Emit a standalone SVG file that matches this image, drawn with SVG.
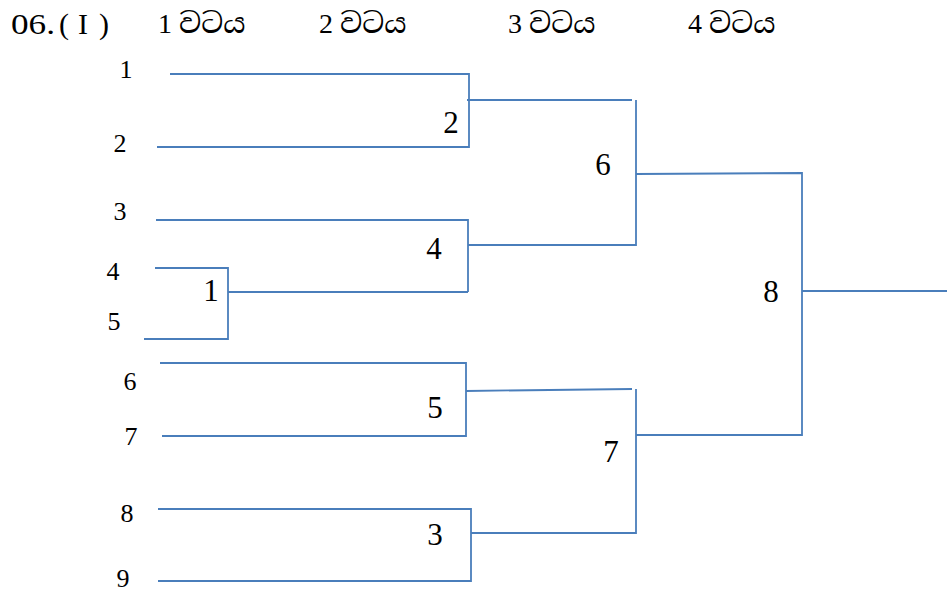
<svg xmlns="http://www.w3.org/2000/svg" width="947" height="594" viewBox="0 0 947 594">
<style>
text{font-family:"Liberation Serif","Times New Roman",serif;fill:#000}
.si{font-family:"Liberation Serif","Noto Serif Sinhala","Noto Sans Sinhala",serif}
.h{font-size:28px}
.h2{font-size:30px}
.leaf{font-size:26px;text-anchor:middle}
.lbl{font-size:31px;text-anchor:middle}
.big{font-size:31px;text-anchor:middle}
#connectors path{fill:none;stroke:#4a7ebb;stroke-width:1.8}
</style>
<rect width="947" height="594" fill="#fff"/>
<g id="header">
<text class="h2" x="11" y="34" textLength="44" lengthAdjust="spacingAndGlyphs">06.</text>
<text class="h2" x="59" y="34">(</text>
<text class="h2" x="78" y="34" textLength="10" lengthAdjust="spacingAndGlyphs">I</text>
<text class="h2" x="99" y="34">)</text>
<text class="h si" x="158" y="33">1 වටය</text>
<text class="h si" x="319" y="33">2 වටය</text>
<text class="h si" x="508" y="33">3 වටය</text>
<text class="h si" x="688" y="33">4 වටය</text>
</g>
<g id="connectors">
<path d="M170 74H469V147H157"/>
<path d="M467 100H632"/>
<path d="M156 220H468V292"/>
<path d="M155 268H228V339H144"/>
<path d="M228 292H468"/>
<path d="M468 245H636V100"/>
<path d="M160 363H466V436H162"/>
<path d="M466 391L632 389"/>
<path d="M158 509H471V581H158"/>
<path d="M471 533H636V389"/>
<path d="M636 174L802 173V435H636"/>
<path d="M802 291H947"/>
</g>
<g id="p1"><text class="leaf" x="126" y="78">1</text></g>
<g id="p2"><text class="leaf" x="120" y="152">2</text></g>
<g id="p3"><text class="leaf" x="120" y="220">3</text></g>
<g id="p4"><text class="leaf" x="113" y="280">4</text></g>
<g id="p5"><text class="leaf" x="114" y="330">5</text></g>
<g id="p6"><text class="leaf" x="130" y="390">6</text></g>
<g id="p7"><text class="leaf" x="131" y="445">7</text></g>
<g id="p8"><text class="leaf" x="127" y="522">8</text></g>
<g id="p9"><text class="leaf" x="123" y="587">9</text></g>
<g id="m1"><text class="lbl" x="211" y="301">1</text></g>
<g id="m2"><text class="lbl" x="451" y="133">2</text></g>
<g id="m4"><text class="lbl" x="434" y="259">4</text></g>
<g id="m5"><text class="lbl" x="435" y="418">5</text></g>
<g id="m3"><text class="lbl" x="435" y="545">3</text></g>
<g id="m6"><text class="big" x="603" y="175">6</text></g>
<g id="m7"><text class="big" x="611" y="462">7</text></g>
<g id="m8"><text class="big" x="771" y="302">8</text></g>
</svg>
